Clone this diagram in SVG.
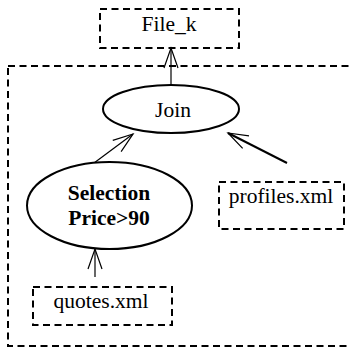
<svg xmlns="http://www.w3.org/2000/svg" width="351" height="349" viewBox="0 0 351 349">
<style>
.box{fill:none;stroke:#000;stroke-width:2;stroke-dasharray:7 4.5}
.ell{fill:#fff;stroke:#000;stroke-width:2}
.t{font-family:"Liberation Serif","Times New Roman",serif;font-size:21.5px;fill:#000;text-anchor:middle}
.b{font-weight:bold}
.c{fill:none;stroke:#000;stroke-width:1.2}
.ct{stroke-width:2}
</style>
<defs>
<marker id="ah" markerUnits="userSpaceOnUse" markerWidth="30" markerHeight="20" refX="0" refY="0" viewBox="-22 -10 24 20" orient="auto" overflow="visible">
<path d="M-20,-7 L0,0 L-20,7" fill="none" stroke="#000" stroke-width="1.2"/>
</marker>
</defs>
<rect id="container" class="box" x="8" y="66" width="380" height="280"/>
<g id="connectors">
<line class="c" x1="171" y1="85" x2="171" y2="48" marker-end="url(#ah)"/>
<line class="c" x1="94" y1="163" x2="133" y2="134" marker-end="url(#ah)"/>
<line class="c ct" x1="287" y1="163" x2="228" y2="133" marker-end="url(#ah)"/>
<line class="c" x1="95" y1="277" x2="95" y2="249" marker-end="url(#ah)"/>
</g>
<g id="file_k">
<rect class="box" x="100" y="9" width="139" height="39"/>
<text class="t" x="169" y="31">File_k</text>
</g>
<g id="join">
<ellipse class="ell" cx="171" cy="109" rx="68" ry="24"/>
<text class="t" x="173" y="117">Join</text>
</g>
<g id="selection">
<ellipse class="ell" cx="109.5" cy="205.5" rx="82.5" ry="43.5"/>
<text class="t b" x="109" y="200">Selection</text>
<text class="t b" x="109" y="225">Price&gt;90</text>
</g>
<g id="profiles">
<rect class="box" x="219" y="182" width="125" height="47"/>
<text class="t" x="281" y="203">profiles.xml</text>
</g>
<g id="quotes">
<rect class="box" x="33" y="287" width="139" height="38"/>
<text class="t" x="101" y="308">quotes.xml</text>
</g>
</svg>
